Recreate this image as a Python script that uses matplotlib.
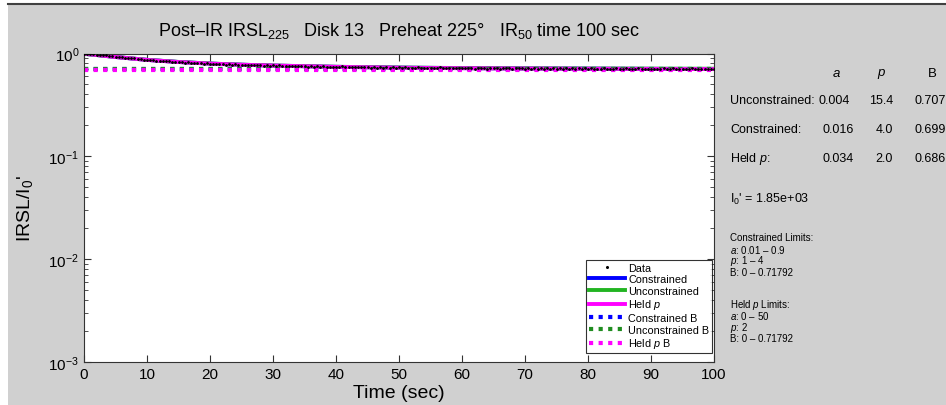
import matplotlib
matplotlib.use("Agg")
import matplotlib.pyplot as plt
import numpy as np
from matplotlib.patches import Rectangle
from matplotlib.lines import Line2D

plt.rcParams['font.family'] = ['Liberation Sans', 'DejaVu Sans']
plt.rcParams['mathtext.fontset'] = 'custom'
plt.rcParams['mathtext.rm'] = 'Liberation Sans'
plt.rcParams['mathtext.it'] = 'Liberation Sans:italic'

# --- data ---
time = np.arange(0, 100.5, 0.5)
irsl = [
    0.996, 0.994, 0.981, 0.985, 0.968, 0.972, 0.957, 0.961, 0.944, 0.948,
    0.927, 0.915, 0.921, 0.905, 0.909, 0.896, 0.899, 0.884, 0.887, 0.872,
    0.869, 0.858, 0.861, 0.850, 0.846, 0.851, 0.836, 0.839, 0.829, 0.833,
    0.821, 0.826, 0.813, 0.818, 0.805, 0.812, 0.800, 0.808, 0.797, 0.803,
    0.798, 0.790, 0.794, 0.786, 0.792, 0.781, 0.787, 0.778, 0.784, 0.776,
    0.779, 0.771, 0.776, 0.768, 0.781, 0.765, 0.772, 0.762, 0.769, 0.760,
    0.765, 0.757, 0.768, 0.754, 0.761, 0.751, 0.759, 0.748, 0.757, 0.750,
    0.753, 0.745, 0.756, 0.741, 0.749, 0.744, 0.752, 0.739, 0.747, 0.740,
    0.744, 0.737, 0.749, 0.733, 0.741, 0.736, 0.745, 0.731, 0.739, 0.735,
    0.737, 0.729, 0.742, 0.727, 0.734, 0.730, 0.738, 0.724, 0.733, 0.728,
    0.731, 0.722, 0.735, 0.725, 0.729, 0.719, 0.732, 0.726, 0.721, 0.730,
    0.717, 0.728, 0.722, 0.733, 0.720, 0.725, 0.716, 0.727, 0.721, 0.724,
    0.715, 0.726, 0.719, 0.722, 0.713, 0.729, 0.718, 0.721, 0.712, 0.724,
    0.717, 0.722, 0.711, 0.726, 0.716, 0.719, 0.710, 0.723, 0.715, 0.720,
    0.713, 0.727, 0.712, 0.718, 0.709, 0.721, 0.714, 0.717, 0.708, 0.724,
    0.713, 0.716, 0.710, 0.722, 0.711, 0.715, 0.707, 0.720, 0.712, 0.716,
    0.709, 0.719, 0.711, 0.714, 0.706, 0.721, 0.710, 0.713, 0.705, 0.718,
    0.712, 0.708, 0.716, 0.704, 0.713, 0.709, 0.719, 0.707, 0.711, 0.706,
    0.714, 0.703, 0.712, 0.709, 0.717, 0.705, 0.710, 0.715, 0.702, 0.711,
    0.708, 0.713, 0.704, 0.716, 0.707, 0.710, 0.701, 0.714, 0.709, 0.705,
    0.711,
]

fit_t = [0, 2, 5, 10, 15, 20, 25, 30, 40, 50, 60, 70, 80, 90, 100]
fit_constrained = [0.993, 0.967, 0.925, 0.867, 0.827, 0.798, 0.778, 0.763,
                   0.742, 0.729, 0.721, 0.715, 0.712, 0.709, 0.707]
fit_unconstrained = [0.992, 0.966, 0.926, 0.868, 0.828, 0.799, 0.778, 0.764,
                     0.743, 0.730, 0.722, 0.717, 0.714, 0.712, 0.711]
fit_heldp = [0.995, 0.968, 0.925, 0.866, 0.826, 0.797, 0.777, 0.763,
             0.741, 0.727, 0.719, 0.714, 0.710, 0.708, 0.706]

B_constrained = 0.699
B_unconstrained = 0.707
B_heldp = 0.686

fit_names = ['Unconstrained:', 'Constrained:', 'Held $p$:']
fit_a = ['0.004', '0.016', '0.034']
fit_p = ['15.4', '4.0', '2.0']
fit_B = ['0.707', '0.699', '0.686']

GREEN = '#22b422'
DGREEN = '#1f8c1f'
W, H = 946, 406

fig = plt.figure(figsize=(W / 100, H / 100), dpi=100, facecolor='white')
# grey panel with a dark top edge, like the screenshot
fig.patches.append(Rectangle((8 / W, 0), 1 - 8 / W, 1 - 5 / H, transform=fig.transFigure,
                             facecolor='#d0d0d0', edgecolor='none', zorder=-10))
fig.lines.append(Line2D([8 / W, 1], [1 - 5 / H, 1 - 5 / H], transform=fig.transFigure,
                        color='#404040', lw=1.5))

ax = fig.add_axes([84 / W, 1 - 363 / H, (714 - 84) / W, (363 - 54.5) / H])
ax.set_facecolor('white')

ax.plot(time, irsl, 'k.', ms=2, label='Data', zorder=5)
ax.plot(fit_t, fit_constrained, color='blue', lw=2.8, label='Constrained')
ax.plot(fit_t, fit_unconstrained, color=GREEN, lw=2.8, label='Unconstrained')
ax.plot(fit_t, fit_heldp, color='magenta', lw=2.8, label='Held $p$')
ax.plot([0, 100], [B_constrained] * 2, color='blue', lw=3, ls=(0, (1, 1.3)), label='Constrained B')
ax.plot([0, 100], [B_unconstrained] * 2, color=DGREEN, lw=3, ls=(0, (1, 1.3)), label='Unconstrained B')
ax.plot([0, 100], [B_heldp] * 2, color='magenta', lw=3, ls=(0, (1, 1.3)), label='Held $p$ B')

ax.set_yscale('log')
ax.set_xlim(0, 100)
ax.set_ylim(1e-3, 1)
ax.set_xticks(range(0, 101, 10))
ax.tick_params(which='both', direction='in', top=True, right=True, labelsize=11,
               color='#333333')
ax.tick_params(which='major', length=5)
ax.tick_params(which='minor', length=3)
for s in ax.spines.values():
    s.set_color('#333333')

ax.set_xlabel('Time (sec)', fontsize=14, labelpad=2)
ax.set_ylabel("IRSL/I$_0$'", fontsize=14, labelpad=10)
ax.set_title('Post\u2013IR IRSL$_{225}$   Disk 13   Preheat 225\u00b0   IR$_{50}$ time 100 sec',
             fontsize=13, pad=13)

leg = ax.legend(loc='lower right', bbox_to_anchor=(0.9968, 0.029), fontsize=7.8,
                handlelength=3.4, frameon=True, fancybox=False, borderaxespad=0,
                labelspacing=0.15, handletextpad=0.25, borderpad=0.25, markerscale=1.2)
leg.get_frame().set_edgecolor('black')
leg.get_frame().set_linewidth(0.8)


def ft(x, y, s, **kw):
    fig.text(x / W, 1 - y / H, s, va='center', **kw)


# fit table on the right
ft(836, 74, '$a$', fontsize=9.5, ha='center')
ft(882, 74, '$p$', fontsize=9.5, ha='center')
ft(932, 74, 'B', fontsize=9.5, ha='center')
for i, name in enumerate(fit_names):
    y = 101 + i * 29
    ft(730, y, name, fontsize=9)
    ft(850 if i == 0 else 854, y, fit_a[i], fontsize=9, ha='right')
    ft(893, y, fit_p[i], fontsize=9, ha='right')
    ft(946, y, fit_B[i], fontsize=9, ha='right')
ft(730, 199, "I$_0$' = 1.85e+03", fontsize=9)

lim_lines = ['Constrained Limits:', '$a$: 0.01 \u2013 0.9', '$p$: 1 \u2013 4', 'B: 0 \u2013 0.71792']
held_lines = ['Held $p$ Limits:', '$a$: 0 \u2013 50', '$p$: 2', 'B: 0 \u2013 0.71792']
for i, s in enumerate(lim_lines):
    ft(730, 238 + i * 11.6, s, fontsize=7)
for i, s in enumerate(held_lines):
    ft(730, 305 + i * 11.5, s, fontsize=7)

fig.savefig('out.png', dpi=100, facecolor=fig.get_facecolor())
